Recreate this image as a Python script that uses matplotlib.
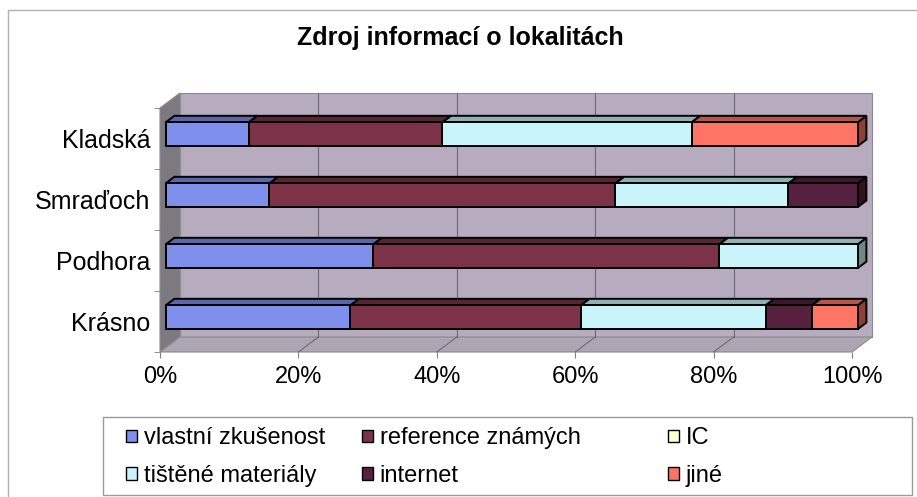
import matplotlib
matplotlib.use("Agg")
import matplotlib.pyplot as plt
import matplotlib.colors as mcolors
from matplotlib.patches import Polygon, Rectangle, Patch

plt.rcParams['font.family'] = ['Liberation Sans', 'DejaVu Sans']

nadpis = "Zdroj informací o lokalitách"
lokality = ["Krásno", "Podhora", "Smraďoch", "Kladská"]
zdroje = ["vlastní zkušenost", "reference známých", "IC",
          "tištěné materiály", "internet", "jiné"]
barvy = ["#7F8FEC", "#7D3347", "#FFFFD0", "#C9F5FA", "#55213F", "#FF7565"]
procenta = [0, 20, 40, 60, 80, 100]

# podíly v % pro lokality (zdola nahoru: Krásno, Podhora, Smraďoch, Kladská)
vlastni = [26.7, 30, 15, 12]
reference = [33.3, 50, 50, 28]
ic = [0, 0, 0, 0]
tistene = [26.7, 20, 25, 36]
internet = [6.7, 0, 10, 0]
jine = [6.6, 0, 0, 24]
serie = [vlastni, reference, ic, tistene, internet, jine]


def ztmavit(c, k):
    r, g, b = mcolors.to_rgb(c)
    return (r * k, g * k, b * k)


W, H = 917, 497
fig = plt.figure(figsize=(W / 100, H / 100), dpi=100)
ax = fig.add_axes([160 / W, 1 - 352 / H, 692 / W, 244 / H])
ax.set_xlim(0, 100)
ax.set_ylim(-0.5, 3.5)

# hloubka 3D efektu v jednotkach dat
DX = 20 / 692 * 100
DY = 15 / 244 * 4
f0, f1 = 0.28, 0.72
h = 0.39

# steny
ax.add_patch(Rectangle((DX, -0.5 + DY), 100, 4, fc="#B7ABBF", ec="#8A8A8A",
                       lw=0.8, zorder=0, clip_on=False))
ax.add_patch(Polygon([(0, -0.5), (DX, -0.5 + DY), (DX, 3.5 + DY), (0, 3.5)],
                     closed=True, fc="#7C7980", ec="#8A8A8A", lw=0.8, zorder=0.5, clip_on=False))
ax.add_patch(Polygon([(0, -0.5), (100, -0.5), (100 + DX, -0.5 + DY), (DX, -0.5 + DY)],
                     closed=True, fc="#ADA5B3", ec="#8A8A8A", lw=0.8, zorder=0.5, clip_on=False))
for p in procenta[1:-1]:
    ax.plot([p + DX, p + DX], [-0.5 + DY, 3.5 + DY], color="#6E6A72", lw=0.8, zorder=1, clip_on=False)
    ax.plot([p, p + DX], [-0.5, -0.5 + DY], color="#6E6A72", lw=0.8, zorder=1, clip_on=False)

# sloupce
ox, oy = f0 * DX, f0 * DY
ddx, ddy = (f1 - f0) * DX, (f1 - f0) * DY
for i in range(len(lokality)):
    left = 0
    z = 3
    for j, s in enumerate(serie):
        v = s[i]
        if v <= 0:
            continue
        x0, x1 = left + ox, left + v + ox
        y0, y1 = i - h / 2 + oy, i + h / 2 + oy
        kw = dict(ec="black", lw=1.4, joinstyle="miter", clip_on=False)
        ax.add_patch(Polygon([(x1, y0), (x1, y1), (x1 + ddx, y1 + ddy), (x1 + ddx, y0 + ddy)],
                             closed=True, fc=ztmavit(barvy[j], 0.55), zorder=z, **kw))
        ax.add_patch(Polygon([(x0, y1), (x1, y1), (x1 + ddx, y1 + ddy), (x0 + ddx, y1 + ddy)],
                             closed=True, fc=ztmavit(barvy[j], 0.72), zorder=z + 0.1, **kw))
        ax.add_patch(Rectangle((x0, y0), v, h, fc=barvy[j], zorder=z + 0.2, **kw))
        z += 1
        left += v

for s in ax.spines.values():
    s.set_visible(False)
ax.set_xticks(procenta)
ax.set_xticklabels([f"{p}%" for p in procenta], fontsize=17)
ax.tick_params(axis="x", length=4, color="#808080", pad=6)
ax.set_yticks(range(len(lokality)))
ax.set_yticklabels(lokality, fontsize=18)
ax.set_yticks([k - 0.5 for k in range(len(lokality) + 1)], minor=True)
ax.tick_params(axis="y", which="major", length=0, pad=7)
ax.tick_params(axis="y", which="minor", length=4, color="#808080")

fig.text(297 / W, 1 - 38 / H, nadpis, ha="left", va="center", fontsize=18, fontweight="bold")

# legenda: tri sloupce po dvou polozkach
sloupce = [[0, 3], [1, 4], [2, 5]]
x_sloupcu = [126, 362, 668]
for xs, idx in zip(x_sloupcu, sloupce):
    handles = [Patch(fc=barvy[k], ec="black", lw=1) for k in idx]
    labels = [zdroje[k] for k in idx]
    fig.legend(handles, labels, loc="center left", bbox_to_anchor=(xs / W, 1 - 457 / H),
               frameon=False, fontsize=17, handlelength=0.45, handleheight=0.45,
               handletextpad=0.3, labelspacing=0.65, borderpad=0, borderaxespad=0)
fig.add_artist(Rectangle((103 / W, 1 - 495 / H), 809 / W, 78 / H, transform=fig.transFigure,
                         fill=False, ec="#9A9A9A", lw=1))
fig.add_artist(Rectangle((8 / W, -0.1), 2, 1.1 - 10 / H, transform=fig.transFigure,
                         fill=False, ec="#B0B0B0", lw=1))

fig.savefig("out.png", dpi=100)
